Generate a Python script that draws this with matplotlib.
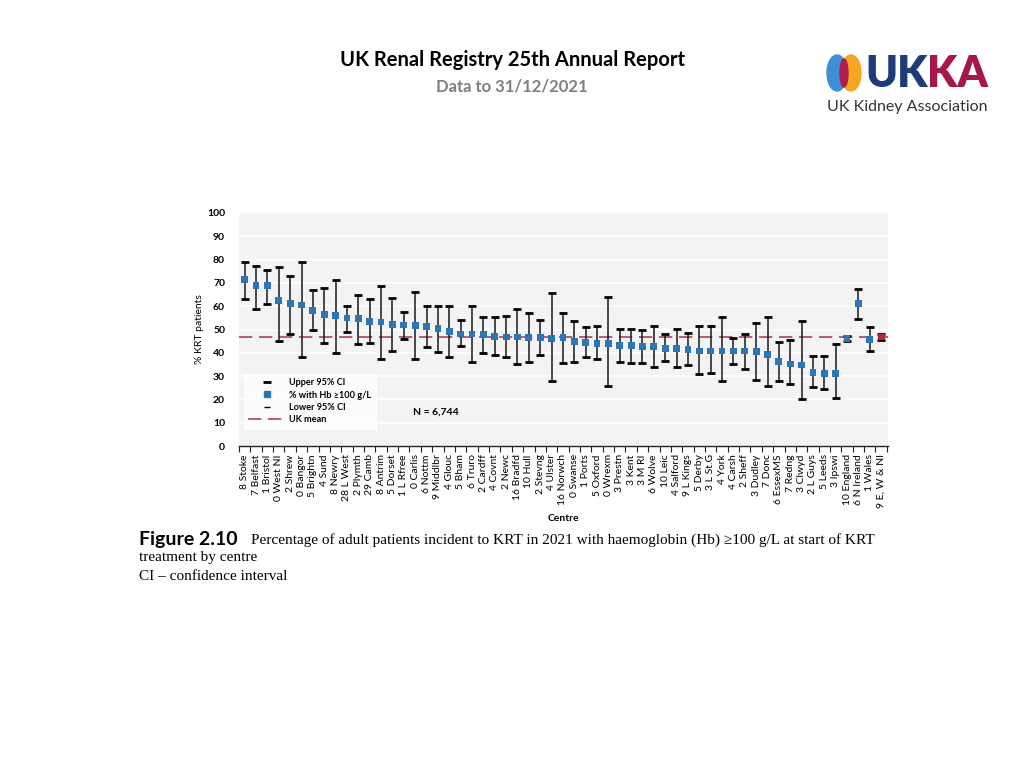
import numpy as np
import matplotlib.pyplot as plt
from matplotlib.lines import Line2D
from matplotlib.patches import Ellipse

centres = ["8 Stoke", "7 Belfast", "1 Bristol", "0 West NI", "2 Shrew", "0 Bangor", "5 Brightn",
           "4 Sund", "8 Newry", "28 L West", "2 Plymth", "29 Camb", "8 Antrim", "5 Dorset",
           "1 L Rfree", "0 Carlis", "6 Nottm", "9 Middlbr", "4 Glouc", "5 Bham", "6 Truro",
           "2 Cardff", "4 Covnt", "2 Newc", "16 Bradfd", "10 Hull", "2 Stevng", "4 Ulster",
           "16 Norwch", "0 Swanse", "1 Ports", "5 Oxford", "0 Wrexm", "3 Prestn", "3 Kent",
           "3 M RI", "6 Wolve", "10 Leic", "4 Salford", "9 L Kings", "5 Derby", "3 L St.G",
           "4 York", "4 Carsh", "2 Sheff", "3 Dudley", "7 Donc", "6 EssexMS", "7 Redng",
           "3 Clwyd", "2 L Guys", "5 Leeds", "3 Ipswi", "10 England", "6 N Ireland",
           "1 Wales", "9 E, W & NI"]

pct = [71.3, 68.8, 68.8, 62.3, 61.0, 60.5, 58.3, 56.3, 55.9, 54.9, 54.7, 53.4, 53.2, 52.1,
       51.9, 51.6, 51.4, 50.4, 49.0, 48.1, 48.1, 47.7, 47.1, 46.8, 46.8, 46.4, 46.4, 46.3,
       46.4, 44.8, 44.4, 44.0, 44.0, 43.1, 43.1, 42.7, 42.7, 42.0, 41.8, 41.3, 40.8, 40.8,
       40.8, 40.8, 40.8, 40.4, 39.4, 36.2, 35.2, 34.8, 31.7, 31.2, 31.2, 46.3, 61.0, 45.8, 46.8]

upper = [78.8, 77.2, 75.5, 77.0, 72.8, 79.0, 67.0, 67.8, 71.2, 60.2, 64.9, 63.2, 68.5, 63.5,
         57.4, 65.9, 59.9, 60.3, 60.3, 53.9, 60.0, 55.4, 55.3, 55.7, 58.6, 57.2, 53.9, 65.8,
         57.0, 53.6, 50.9, 51.6, 64.0, 50.3, 50.3, 49.7, 51.7, 48.0, 50.3, 48.4, 51.6, 51.3,
         55.4, 46.4, 48.1, 53.0, 55.2, 44.8, 45.3, 53.6, 38.8, 38.8, 43.7, 47.4, 67.3, 51.1, 47.9]

lower = [63.0, 59.0, 61.0, 45.0, 48.0, 38.4, 49.7, 44.0, 39.7, 49.0, 43.7, 44.0, 37.2, 40.8,
         45.8, 37.2, 42.5, 40.5, 38.3, 43.0, 36.2, 39.7, 39.1, 38.3, 35.1, 36.0, 39.0, 27.9,
         35.5, 36.2, 38.3, 37.2, 25.6, 36.2, 35.8, 35.8, 33.7, 36.4, 33.7, 34.8, 30.9, 31.4,
         27.8, 35.1, 33.2, 28.5, 25.9, 28.1, 26.8, 20.1, 25.5, 24.5, 20.6, 45.0, 54.4, 40.8, 45.7]

uk_mean = 46.7
n_total = "N = 6,744"

plt.rcParams['font.family'] = ['Lato', 'DejaVu Sans']

W, H = 1024, 768
fig = plt.figure(figsize=(W / 100, H / 100), dpi=100)
fig.patch.set_facecolor("white")
renderer = fig.canvas.get_renderer()

def fx(px):
    return px / W

def fy(py):
    return 1 - py / H

# header
fig.text(fx(512), fy(60), "UK Renal Registry 25th Annual Report", ha="center", va="center",
         fontsize=14.5, fontweight="bold", color="black")
fig.text(fx(512), fy(86), "Data to 31/12/2021", ha="center", va="center",
         fontsize=12, fontweight="bold", color="#7f7f7f")

# logo
lax = fig.add_axes([fx(820), fy(122), fx(175), 72 / H])
lax.set_xlim(820, 995)
lax.set_ylim(122, 50)
lax.axis("off")
lax.add_patch(Ellipse((837, 73), 20, 36, color="#3d8fd6", zorder=1))
lax.add_patch(Ellipse((851, 73), 20, 36, color="#f5a623", zorder=1))
lax.add_patch(Ellipse((844, 73), 8, 28, color="#b01e4f", zorder=2))
t_uk = lax.text(865, 74, "UK", fontsize=31, fontweight="heavy", color="#1d3c78",
                va="center", ha="left")
bb = t_uk.get_window_extent(renderer)
lax.text(820 + (bb.x1 - fx(820) * W), 74, "KA", fontsize=31, fontweight="heavy",
         color="#a5174c", va="center", ha="left")
lax.text(907, 107, "UK Kidney Association", fontsize=11.5, color="#333333",
         va="center", ha="center")

# chart
ax = fig.add_axes([fx(239), fy(446), fx(888 - 239), (446 - 213) / H])
ax.set_facecolor("#f3f3f3")
x = np.arange(len(centres))
pct_a = np.array(pct)
up_a = np.array(upper)
lo_a = np.array(lower)

for g in range(10, 101, 10):
    ax.axhline(g, color="white", lw=1.2, zorder=1)

ax.vlines(x, lo_a, up_a, color="#1a1a1a", lw=1.1, zorder=3)
ax.plot(x, up_a, ls="none", marker="_", ms=6, mew=2, color="black", zorder=4)
ax.plot(x, lo_a, ls="none", marker="_", ms=6, mew=2, color="black", zorder=4)
ax.axhline(uk_mean, color="#a8445f", lw=1.2, dashes=(8, 4), zorder=2)
colors = ["#2e75b6"] * (len(centres) - 1) + ["#b3263e"]
ax.scatter(x, pct_a, marker="s", s=24, c=colors, zorder=5, linewidths=0)

ax.set_xlim(-0.45, len(centres) - 0.4)
ax.set_ylim(0, 100)
ax.set_yticks(range(0, 101, 10))
ax.tick_params(axis="y", length=0, labelsize=7.5, pad=10)
for t in ax.get_yticklabels():
    t.set_fontweight("bold")
ax.set_xticks(x)
ax.set_xticklabels(centres, rotation=90, fontsize=7.5)
ax.tick_params(axis="x", length=0, pad=6)
ax.set_xticks(np.arange(-0.5, len(centres), 1), minor=True)
ax.tick_params(axis="x", which="minor", length=4, width=0.8, color="#222222")
for s in ["top", "right", "left"]:
    ax.spines[s].set_visible(False)
ax.spines["bottom"].set_color("#222222")
ax.spines["bottom"].set_linewidth(1.0)
ax.set_ylabel("% KRT patients", fontsize=7.5, labelpad=2)
ax.set_xlabel("Centre", fontsize=7.5, fontweight="bold", labelpad=4)

handles = [
    Line2D([], [], ls="none", marker="_", ms=6, mew=2, color="black"),
    Line2D([], [], ls="none", marker="s", ms=4, color="#2e75b6"),
    Line2D([], [], ls="none", marker="_", ms=5, mew=1, color="black"),
    Line2D([], [], color="#a8445f", lw=1.2, dashes=(8, 4)),
]
labels = ["Upper 95% CI", "% with Hb \u2265100 g/L", "Lower 95% CI", "UK mean"]
leg = ax.legend(handles, labels, loc="lower left", bbox_to_anchor=(0.0, 0.055),
                fontsize=6.6, frameon=True, fancybox=False, handlelength=4.0,
                labelspacing=0.35, borderpad=0.5, handletextpad=0.5)
leg.get_frame().set_facecolor("white")
leg.get_frame().set_edgecolor("white")
for t in leg.get_texts():
    t.set_fontweight("bold")
ax.text(16.8, 14.6, n_total, fontsize=7.5, fontweight="bold", va="center", ha="center")

# caption
fig.text(fx(139), fy(540), "Figure 2.10", fontsize=14, fontweight="bold",
         va="center", ha="left")
fig.text(fx(251), fy(540),
         "Percentage of adult patients incident to KRT in 2021 with haemoglobin (Hb) \u2265100 g/L at start of KRT",
         fontsize=11, family="Liberation Serif", va="center", ha="left")
fig.text(fx(139), fy(558), "treatment by centre", fontsize=11, family="Liberation Serif",
         va="center", ha="left")
fig.text(fx(139), fy(576), "CI \u2013 confidence interval", fontsize=11, family="Liberation Serif",
         va="center", ha="left")

fig.savefig("out.png", dpi=100)
